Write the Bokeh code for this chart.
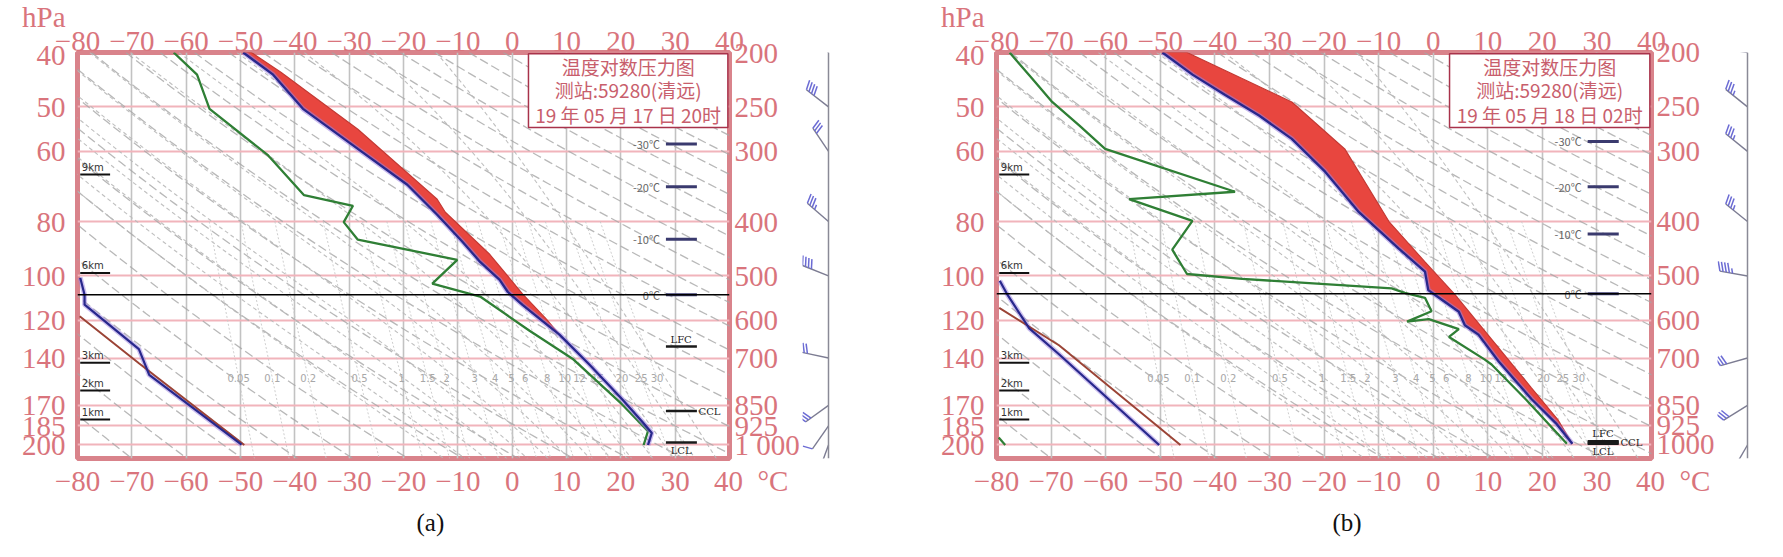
import numpy as np
from bokeh.plotting import figure
from bokeh.models import (Range1d, LogScale, LinearAxis, LogAxis, FixedTicker, Grid,
                          Label, Span, BoxAnnotation, Title)
from bokeh.layouts import row
from bokeh.embed import file_html
from bokeh.resources import INLINE
from bokeh.core.properties import value

# ---------------- data ----------------
T_TICKS = [-80, -70, -60, -50, -40, -30, -20, -10, 0, 10, 20, 30, 40]
P_TICKS = [200, 250, 300, 400, 500, 600, 700, 850, 925, 1000]
P_TICKS_UPPER = [40, 50, 60, 80, 100, 120, 140, 170, 185, 200]
P_TOP, P_BOT = 200, 1057

KM_LABELS = ["9km", "6km", "3km", "2km", "1km"]
KM_P = [330, 494, 714, 800, 901]
ISO_LABELS = ["-30℃", "-20℃", "-10℃", "0℃"]
FLAG_LABELS = ["LFC", "CCL", "LCL"]
MR_VALUES = [0.05, 0.1, 0.2, 0.5, 1, 1.5, 2, 3, 4, 5, 6, 8, 10, 12, 15, 20, 25, 30]
THETA_DRY = list(range(190, 481, 10))
THETA_W = list(range(-16, 37, 4))

TITLE_1 = "温度对数压力图"
TITLE_2 = "测站:59280(清远)"
A_TIME = "19 年 05 月 17 日 20时"
B_TIME = "19 年 05 月 18 日 02时"

# panel (a): 2019-05-17 20h
A_T_T = [-49.5, -44.0, -38.5, -28.4, -19.3, -13.8, -9.2, -5.9, -2.3, -0.8, 1.9, 5.6, 8.7, 14.2, 20.2, 23.9, 25.7, 25.0]
A_T_P = [200, 219, 252, 297, 344, 389, 434, 472, 508, 534, 563, 602, 636, 719, 828, 908, 952, 1000]
A_PCL_T = [-48.0, -42.5, -28.4, -13.8, -12.3, -4.1, 1.9, 6.3, 8.7]
A_PCL_P = [200, 217, 274, 365, 385, 458, 538, 597, 636]
A_TD_T = [-62.3, -58.0, -55.7, -44.9, -38.3, -29.3, -31.0, -28.4, -10.1, -14.7, -5.9, 3.2, 11.1, 20.2, 25.0, 24.2]
A_TD_P = [200, 219, 252, 305, 359, 375, 401, 431, 468, 516, 544, 626, 702, 846, 945, 1000]
A_UP_T = [-79.5, -78.7, -78.7, -68.7, -66.8, -49.8]
A_UP_P = [100.7, 108, 112.5, 135, 150, 199.8]
A_UP2_T = [-79.6, -68.7, -49.3]
A_UP2_P = [118, 143, 200]
A_WIND_P = [200, 250, 300, 400, 500, 700, 850, 925, 1000]
A_WIND_DIR = [322, 308, 326, 311, 292, 282, 234, 215, 200]
A_WIND_SPD = [4, 16, 12, 14, 16, 12, 12, 4, 2]
A_ISO_P = [291, 347, 430, 540]
A_FLAG_P = [668, 870, 990]
A_ZERO_P = 540

# panel (b): 2019-05-18 02h
B_T_T = [-49.6, -44.1, -38.1, -31.9, -25.9, -19.8, -13.6, -6.3, -1.5, -0.9, 0.3, 4.7, 5.8, 8.3, 12.0, 18.0, 22.5, 25.5]
B_T_P = [200, 219, 238, 259, 285, 326, 385, 447, 491, 530, 540, 579, 612, 636, 710, 828, 915, 995]
B_PCL_T = [-45.1, -25.9, -16.2, -8.1, -1.5, 4.0, 18.0, 22.8, 25.5]
B_PCL_P = [200, 245, 297, 400, 472, 540, 791, 900, 995]
B_TD_T = [-77.6, -73.4, -69.8, -64.8, -60.1, -36.3, -55.7, -44.1, -47.8, -45.1, -35.0, -7.6, -5.2, -1.5,
          -0.3, -4.8, -0.8, 4.7, 2.9, 9.4, 10.7, 17.0, 24.5]
B_TD_P = [200, 223, 245, 270, 297, 354, 365, 399, 449, 496, 506, 526, 536, 547,
          578, 603, 597, 622, 642, 704, 719, 830, 995]
B_UP_T = [-79.4, -78.0, -74.0, -68.5, -50.2]
B_UP_P = [102, 108, 124, 138, 200]
B_UP2_T = [-79.5, -68.5, -46.3]
B_UP2_P = [114, 133, 200]
B_UPD_T = [-79.6, -78.4]
B_UPD_P = [194, 200]
B_WIND_P = [200, 250, 300, 400, 500, 700, 850, 1000]
B_WIND_DIR = [279, 309, 309, 309, 280, 254, 238, 210]
B_WIND_SPD = [20, 14, 14, 14, 18, 12, 12, 4]
B_ISO_P = [288, 347, 421, 538]
B_FLAG_P = [985, 990, 995]
B_ZERO_P = 538

# ---------------- styles / layout ----------------
PINK = "#d9747c"
SERIF = "Liberation Serif"
CJK = "Noto Sans CJK SC"
NB = "\u00a0"
H = 542
MB_TOP, MB_BOT = 52, 83
FRAME_H = H - MB_TOP - MB_BOT
K_PX = FRAME_H / np.log(P_BOT / P_TOP)   # pixels per unit ln p


def sat_vp(tc):
    return 6.112 * np.exp(17.67 * tc / (tc + 243.5))


def dry_adiabat(theta, plev):
    return theta * (plev / 1000.0) ** 0.2857 - 273.15


def moist_adiabat(tw):
    Rd, cp, Lv, eps = 287.04, 1005.7, 2.501e6, 0.622

    def rate(T, pp):
        tc = T - 273.15
        es = sat_vp(tc)
        rs = eps * es / (pp - es)
        return (Rd * T + Lv * rs) / (cp + Lv * Lv * rs * eps / (Rd * T * T))

    parts = []
    for p_end in (P_TOP, P_BOT):
        n = 100
        lnps = np.linspace(np.log(1000.0), np.log(p_end), n)
        T = tw + 273.15
        ps, Ts = [1000.0], [T]
        for i in range(n - 1):
            h = lnps[i + 1] - lnps[i]
            k1 = rate(T, np.exp(lnps[i]))
            k2 = rate(T + h * k1, np.exp(lnps[i + 1]))
            T = T + 0.5 * h * (k1 + k2)
            ps.append(np.exp(lnps[i + 1]))
            Ts.append(T)
        parts.append((ps, Ts))
    up, dn = parts
    ps = list(reversed(up[0])) + dn[0][1:]
    Ts = list(reversed(up[1])) + dn[1][1:]
    return [t - 273.15 for t in Ts], ps


def mixing_td(w, plev):
    e = w * plev / (622.0 + w)
    a = np.log(e / 6.112)
    return 243.5 * a / (17.67 - a)


def make_panel(d, width, mb_left, mb_right):
    p = figure(width=width, height=H, x_range=Range1d(-80, 40), y_range=Range1d(P_BOT, P_TOP),
               y_axis_type="log", x_axis_location=None, y_axis_location=None,
               min_border_left=mb_left, min_border_right=mb_right,
               min_border_top=MB_TOP, min_border_bottom=MB_BOT,
               toolbar_location=None, output_backend="svg",
               extra_y_ranges={"upper": Range1d(P_BOT / 5.0, P_TOP / 5.0)},
               extra_y_scales={"upper": LogScale()},
               background_fill_color="white", border_fill_color="white",
               outline_line_color="#d9838b", outline_line_width=5)
    p.grid.visible = False

    ax_style = dict(axis_line_color=None, major_tick_line_color=None, minor_tick_line_color=None,
                    major_tick_out=0, major_tick_in=0, minor_tick_out=0,
                    major_label_text_font=SERIF, major_label_text_font_size="29px",
                    major_label_text_color=PINK)
    xo = {t: (f"\u2212{abs(t)}" if t < 0 else str(t)) for t in T_TICKS}
    xb = dict(xo)
    xb[40] = NB * 6 + "40" + NB * 2 + "°C"
    p.add_layout(LinearAxis(ticker=FixedTicker(ticks=T_TICKS), major_label_overrides=xb,
                            major_label_standoff=6, **ax_style), "below")
    p.add_layout(LinearAxis(ticker=FixedTicker(ticks=T_TICKS), major_label_overrides=xo,
                            major_label_standoff=2, **ax_style), "above")
    yo = {t: str(t) for t in P_TICKS}
    yo[1000] = d["thousand"]
    p.add_layout(LogAxis(ticker=FixedTicker(ticks=P_TICKS), major_label_overrides=yo,
                         major_label_standoff=5, **ax_style), "right")
    yl = {t: str(t) for t in P_TICKS_UPPER}
    yl[40] = "hPa\n40\n" + NB
    p.add_layout(LogAxis(y_range_name="upper", ticker=FixedTicker(ticks=P_TICKS_UPPER),
                         major_label_overrides=yl, major_label_standoff=12, **ax_style), "left")

    p.add_layout(Title(text=d["caption"], align="left", offset=d["cap_off"], standoff=14,
                       text_font=SERIF, text_font_size="25px", text_font_style="normal",
                       text_color="#111111"), "below")

    p.add_layout(Grid(dimension=0, ticker=FixedTicker(ticks=T_TICKS),
                      grid_line_color="#c2c2c2", grid_line_width=1.6))
    p.add_layout(Grid(dimension=1, ticker=FixedTicker(ticks=P_TICKS),
                      grid_line_color="#f1b4bb", grid_line_width=2))

    # background: dry adiabats, moist adiabats, mixing-ratio lines
    plev = np.geomspace(P_TOP, P_BOT, 60)
    p.multi_line([list(dry_adiabat(th, plev)) for th in THETA_DRY], [list(plev)] * len(THETA_DRY),
                 line_color="#a6a6a6", line_width=1.3, line_dash="9 4", line_alpha=0.8)
    mx, my = [], []
    for tw in THETA_W:
        tt, pp = moist_adiabat(tw)
        mx.append(tt)
        my.append(pp)
    p.multi_line(mx, my, line_color="#b8b8b8", line_width=1.1, line_dash="4 3", line_alpha=0.9)
    plev_mr = np.geomspace(400, P_BOT, 30)
    p.multi_line([list(mixing_td(w, plev_mr)) for w in MR_VALUES], [list(plev_mr)] * len(MR_VALUES),
                 line_color="#c8c8c8", line_width=0.9, line_dash="2 2")
    p.text(x=[mixing_td(w, 760) for w in MR_VALUES], y=[760] * len(MR_VALUES),
           text=[f"{w:g}" for w in MR_VALUES], text_font=value("DejaVu Sans"),
           text_font_size="10px", text_color="#a8a8a8", text_align="center", text_baseline="middle")

    # upper-level sounding (left axis)
    p.line(d["up_T"], d["up_P"], y_range_name="upper", line_color="#9a80e0", line_width=5, line_alpha=0.5)
    p.line(d["up2_T"], d["up2_P"], y_range_name="upper", line_color="#9b4436", line_width=2)
    p.line(d["up_T"], d["up_P"], y_range_name="upper", line_color="#28288c", line_width=2.2)
    if d.get("upd_T"):
        p.line(d["upd_T"], d["upd_P"], y_range_name="upper", line_color="#2f7f35", line_width=2.2)

    # CAPE area between environment and parcel
    pmax = max(d["pcl_P"])
    env = [(t, pp) for t, pp in zip(d["T_T"], d["T_P"]) if pp <= pmax]
    poly_x = [e[0] for e in env] + list(reversed(d["pcl_T"]))
    poly_y = [e[1] for e in env] + list(reversed(d["pcl_P"]))
    p.patch(poly_x, poly_y, fill_color="#e8463f", line_color="#c43a34", line_width=1.2)

    # dewpoint and temperature
    p.line(d["Td_T"], d["Td_P"], line_color="#2f7f35", line_width=2.3)
    p.line(d["T_T"], d["T_P"], line_color="#9a80e0", line_width=5, line_alpha=0.55)
    p.line(d["T_T"], d["T_P"], line_color="#28288c", line_width=2.3)

    # 0 C level
    p.add_layout(Span(location=d["zero_p"], dimension="width", line_color="black", line_width=1.6))

    # height markers
    n = len(KM_P)
    p.segment(x0=[-79.5] * n, y0=KM_P, x1=[-74.0] * n, y1=KM_P, line_color="#111111", line_width=2)
    p.text(x=[-79.2] * n, y=KM_P, text=KM_LABELS, text_font=value("DejaVu Sans"), text_font_size="10px",
           text_color="#333333", text_baseline="bottom", y_offset=-2)

    # isotherm level marks
    m = len(d["iso_p"])
    p.segment(x0=[28.3] * m, y0=d["iso_p"], x1=[34.0] * m, y1=d["iso_p"], line_color="#3a3a6e", line_width=3)
    p.text(x=[27.2] * m, y=d["iso_p"], text=ISO_LABELS, text_font=value(CJK), text_font_size="11px",
           text_color="#666666", text_align="right", text_baseline="middle")
    fp = d["flag_p"]
    p.segment(x0=[28.3] * 3, y0=fp, x1=[34.0] * 3, y1=fp, line_color="#1a1a1a", line_width=2.5)
    p.text(x=[31.1], y=[fp[0]], text=[FLAG_LABELS[0]], text_font=value("DejaVu Serif"), text_font_size="10px",
           text_color="#222222", text_align="center", text_baseline="bottom", y_offset=-2)
    p.text(x=[34.3], y=[fp[1]], text=[FLAG_LABELS[1]], text_font=value("DejaVu Serif"), text_font_size="10px",
           text_color="#222222", text_align="left", text_baseline="middle")
    p.text(x=[31.1], y=[fp[2]], text=[FLAG_LABELS[2]], text_font=value("DejaVu Serif"), text_font_size="10px",
           text_color="#222222", text_align="center", text_baseline="top", y_offset=2)

    # title box
    bt, bb = 201.0, 272.0
    p.add_layout(BoxAnnotation(left=3.0, right=39.7, top=bt, bottom=bb, fill_color="white", fill_alpha=1.0,
                               line_color="#a8324a", line_width=1.5, line_alpha=1.0))
    for frac, txt in zip([0.17, 0.49, 0.82], [TITLE_1, TITLE_2, d["time"]]):
        p.add_layout(Label(x=21.35, y=bt * (bb / bt) ** frac, text=txt, text_font=CJK, text_font_size="19px",
                           text_color="#c85e6c", text_align="center", text_baseline="middle"))
    return p


def make_barbs(width, ax, wp, wd, ws):
    b = figure(width=width, height=H, x_range=Range1d(0, width), y_range=Range1d(P_BOT, P_TOP),
               y_axis_type="log", x_axis_location=None, y_axis_location=None,
               min_border_left=0, min_border_right=0, min_border_top=MB_TOP, min_border_bottom=MB_BOT,
               toolbar_location=None, output_backend="svg", outline_line_color=None,
               background_fill_color="white", border_fill_color="white")
    b.grid.visible = False
    b.add_layout(Span(location=ax, dimension="height", line_color="#8a8a96", line_width=1.5))
    L = 28.0
    sx0, sy0, sx1, sy1 = [], [], [], []
    fx0, fy0, fx1, fy1 = [], [], [], []
    for pp, dd, ss in zip(wp, wd, ws):
        r = np.deg2rad(dd)
        ux, uy = np.sin(r), np.cos(r)
        px_, py_ = uy, -ux
        fxv, fyv = px_ + 0.35 * ux, py_ + 0.35 * uy
        nrm = np.hypot(fxv, fyv)
        fxv, fyv = fxv / nrm, fyv / nrm

        def to_data(sx, sup):
            return ax + sx, pp * np.exp(-sup / K_PX)

        a0 = to_data(0, 0)
        a1 = to_data(ux * L, uy * L)
        sx0.append(a0[0]); sy0.append(a0[1]); sx1.append(a1[0]); sy1.append(a1[1])
        nfull = int(ss // 4)
        half = (ss % 4) >= 2
        lens = [10.0] * nfull + ([5.0] if half else [])
        for i, ln in enumerate(lens):
            dist = L - i * 3.2
            q0 = to_data(ux * dist, uy * dist)
            q1 = to_data(ux * dist + fxv * ln, uy * dist + fyv * ln)
            fx0.append(q0[0]); fy0.append(q0[1]); fx1.append(q1[0]); fy1.append(q1[1])
    b.segment(x0=sx0, y0=sy0, x1=sx1, y1=sy1, line_color="#7c7c92", line_width=1.4)
    b.segment(x0=fx0, y0=fy0, x1=fx1, y1=fy1, line_color="#6b6bd4", line_width=1.5)
    return b


panel_a = dict(T_T=A_T_T, T_P=A_T_P, pcl_T=A_PCL_T, pcl_P=A_PCL_P, Td_T=A_TD_T, Td_P=A_TD_P,
               up_T=A_UP_T, up_P=A_UP_P, up2_T=A_UP2_T, up2_P=A_UP2_P,
               iso_p=A_ISO_P, flag_p=A_FLAG_P, zero_p=A_ZERO_P, time=A_TIME, thousand="1 000",
               caption="(a)", cap_off=339)
panel_b = dict(T_T=B_T_T, T_P=B_T_P, pcl_T=B_PCL_T, pcl_P=B_PCL_P, Td_T=B_TD_T, Td_P=B_TD_P,
               up_T=B_UP_T, up_P=B_UP_P, up2_T=B_UP2_T, up2_P=B_UP2_P, upd_T=B_UPD_T, upd_P=B_UPD_P,
               iso_p=B_ISO_P, flag_p=B_FLAG_P, zero_p=B_ZERO_P, time=B_TIME, thousand="1000",
               caption="(b)", cap_off=336)

fa = make_panel(panel_a, 802, 77, 69)
ba = make_barbs(130, 26, A_WIND_P, A_WIND_DIR, A_WIND_SPD)
fb = make_panel(panel_b, 785, 64, 64)
bb = make_barbs(50, 30, B_WIND_P, B_WIND_DIR, B_WIND_SPD)

layout = row(fa, ba, fb, bb)
open("out.html", "w").write(file_html(layout, INLINE))
